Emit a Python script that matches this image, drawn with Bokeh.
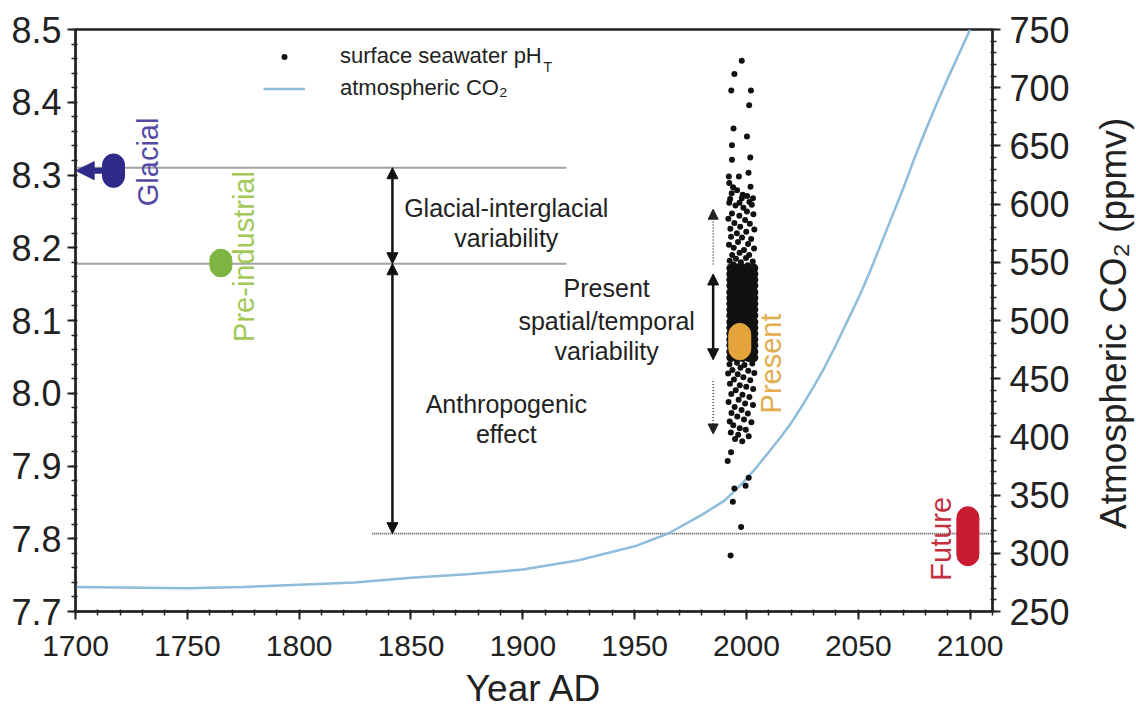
import math
from bokeh.plotting import figure
from bokeh.layouts import row
from bokeh.models import (Range1d, LinearAxis, FixedTicker, PrintfTickFormatter, Label,
                          Arrow, NormalHead, Legend, LegendItem)
from bokeh.embed import file_html
from bokeh.resources import INLINE

FONT = "Liberation Sans"

# ---------------- data ----------------
x_ticks = [1700, 1750, 1800, 1850, 1900, 1950, 2000, 2050, 2100]
ph_ticks = [7.7, 7.8, 7.9, 8.0, 8.1, 8.2, 8.3, 8.4, 8.5]
co2_ticks = [250, 300, 350, 400, 450, 500, 550, 600, 650, 700, 750]

co2_years = [1700, 1750, 1775, 1800, 1825, 1850, 1875, 1900, 1925, 1950, 1965, 1980,
             1990, 1995, 2000, 2005, 2010, 2015, 2020, 2025, 2030, 2035, 2040, 2045,
             2050, 2055, 2060, 2065, 2070, 2075, 2080, 2085, 2090, 2095, 2100]
co2_ppm = [271, 270, 271, 273, 275, 279, 282, 286, 294, 306, 317, 333,
           345, 354, 364, 375, 387, 399, 412, 427, 443, 460, 479, 499,
           519, 541, 565, 589, 613, 639, 663, 686, 708, 729, 750]

# surface seawater pH_T observations (scattered)
ph_year = [1997.9, 1993.2, 1994.6, 2002.0, 2001.2, 1994.2, 2000.2, 1993.5, 1993.5, 2001.7,
           2000.9, 1992.1, 1992.3, 1996.6, 2001.8, 1992.7, 1998.3, 1996.9, 2001.3, 1995.8,
           2000.3, 1993.4, 1997.9, 2002.9, 1994.0,
           1992.3, 1995.1, 1998.6, 2002.4, 2000.2, 1993.5, 1996.8, 2003.1, 1991.9, 1999.4,
           1994.6, 2001.5, 1997.2, 1992.8, 2003.5, 1999.9, 1995.7, 1993.1, 1998.0, 2002.1,
           1996.2, 2000.7, 1992.2, 1994.3, 2003.4, 1998.9, 1996.9, 1993.6, 2001.2, 1999.8,
           1995.3, 1992.5, 2002.8, 1997.5, 1994.2, 2000.5, 1996.0, 1998.4, 2003.0, 1992.9,
           1992.4, 1995.8, 1999.1, 2002.6, 1997.3, 1993.7, 2000.8, 1991.8, 1996.1, 2003.5,
           1998.6, 1994.4, 2001.7, 1992.6, 1997.0, 1999.9, 2003.0, 1995.2, 1993.2, 1998.2,
           2001.3, 1996.5, 1992.0, 1999.4, 2002.9, 1994.7, 1997.8, 1993.3, 2000.6, 1995.9,
           1998.9, 1992.5, 2002.2, 1994.1, 1997.0, 1999.7, 1993.0, 1996.3, 2001.0, 1994.9,
           1998.1,
           1993.1, 1991.6, 2001.0, 1999.6, 1994.6, 1993.9, 1997.6, 1992.9]
ph_value = [8.457, 8.416, 8.439, 8.416, 8.396, 8.364, 8.353, 8.341, 8.321, 8.324,
            8.303, 8.298, 8.289, 8.298, 8.284, 8.267, 8.273, 8.262, 8.263, 8.279,
            8.271, 8.275, 8.268, 8.268, 8.283,
            8.262, 8.258, 8.255, 8.259, 8.250, 8.247, 8.244, 8.246, 8.240, 8.238,
            8.234, 8.233, 8.229, 8.226, 8.225, 8.222, 8.220, 8.215, 8.214, 8.212,
            8.208, 8.205, 8.204, 8.200, 8.199, 8.197, 8.193, 8.190, 8.190, 8.186,
            8.185, 8.182, 8.181, 8.180, 8.177, 8.176, 8.174, 8.172, 8.172, 8.170,
            8.040, 8.042, 8.039, 8.041, 8.035, 8.032, 8.031, 8.027, 8.026, 8.028,
            8.022, 8.019, 8.018, 8.013, 8.011, 8.009, 8.006, 8.004, 7.999, 7.998,
            7.995, 7.991, 7.988, 7.986, 7.984, 7.981, 7.977, 7.973, 7.972, 7.968,
            7.964, 7.961, 7.960, 7.956, 7.952, 7.950, 7.946, 7.943, 7.941, 7.937,
            7.934,
            7.919, 7.907, 7.884, 7.873, 7.869, 7.851, 7.816, 7.777]

# densely packed core of the observations
band_years = [1993.0, 1995.6, 1998.3, 2001.0, 2003.3]
band_ph = [8.172, 8.164, 8.156, 8.148, 8.139, 8.131, 8.123, 8.115, 8.107, 8.098,
           8.090, 8.082, 8.074, 8.066, 8.057, 8.049]

# characteristic pH states
period_names = ["Glacial", "Pre-industrial", "Present", "Future"]
period_year = [1717.0, 1765.0, 1997.0, 2099.0]
period_ph_low = [8.283, 8.160, 8.046, 7.763]
period_ph_high = [8.329, 8.198, 8.096, 7.844]
period_colors = ["#2e2a8a", "#7db542", "#e4a43b", "#c81a30"]
period_text_colors = ["#5549a6", "#a2c957", "#e2ad4c", "#c3303f"]

# reference levels (pH) and their horizontal extents (years)
level_ph = [8.310, 8.178, 7.807]
level_x0 = [1700, 1700, 1832.7]
level_x1 = [1919.4, 1919.4, 2110]

# present variability ranges
present_arrow_year = 1985.1
present_core = [8.164, 8.046]
present_upper = [8.177, 8.253]
present_lower = [8.017, 7.944]
diff_arrow_year = 1841.7

# ---------------- main figure ----------------
p = figure(width=1090, height=711, x_range=Range1d(1700, 2110), y_range=Range1d(7.7, 8.5),
           output_backend="svg", toolbar_location=None,
           min_border_left=75, min_border_right=98, min_border_top=29, min_border_bottom=98)
p.background_fill_color = "white"
p.border_fill_color = "white"
p.xgrid.visible = False
p.ygrid.visible = False
p.outline_line_color = "#222"
p.outline_line_width = 2.5

p.extra_y_ranges = {"co2": Range1d(250, 750)}

def style_axis(ax, size):
    ax.axis_line_color = "#222"
    ax.axis_line_width = 2
    ax.major_tick_line_color = "#222"
    ax.major_tick_line_width = 2
    ax.minor_tick_line_color = "#222"
    ax.minor_tick_line_width = 1.5
    ax.major_tick_in = 0
    ax.major_tick_out = 8
    ax.minor_tick_in = 2
    ax.minor_tick_out = 4
    ax.major_label_text_font = FONT
    ax.major_label_text_font_size = size
    ax.major_label_text_color = "#222"
    ax.axis_label_text_font = FONT
    ax.axis_label_text_font_style = "normal"
    ax.axis_label_text_color = "#222"

xa = p.xaxis[0]
xa.ticker = FixedTicker(ticks=x_ticks, minor_ticks=list(range(1700, 2111, 10)))
style_axis(xa, "30px")
xa.major_label_standoff = 16
xa.axis_label = "Year AD"
xa.axis_label_text_font_size = "37px"
xa.axis_label_standoff = 9

ya = p.yaxis[0]
ya.ticker = FixedTicker(ticks=ph_ticks, minor_ticks=[7.7 + 0.02 * i for i in range(41)])
ya.formatter = PrintfTickFormatter(format="%.1f")
style_axis(ya, "36px")
ya.major_label_standoff = 6

ra = LinearAxis(y_range_name="co2")
ra.ticker = FixedTicker(ticks=co2_ticks, minor_ticks=list(range(250, 751, 10)))
style_axis(ra, "36px")
ra.major_label_standoff = 9
p.add_layout(ra, "right")

# reference levels
p.segment(x0=level_x0, x1=level_x1, y0=level_ph, y1=level_ph,
          line_color="#444", line_width=1.8, line_dash="1 1")

# CO2 curve
co2_line = p.line(co2_years, co2_ppm, y_range_name="co2", line_color="#8dbcdc", line_width=2.5)

# pH observations
band_x = [yr for ph in band_ph for yr in band_years]
band_y = [ph for ph in band_ph for yr in band_years]
p.scatter(band_x, band_y, size=9, color="#111", line_color=None)
pts = p.scatter(ph_year, ph_value, size=6, color="#111", line_color=None)

# period capsules
mid = [(a + b) / 2 for a, b in zip(period_ph_low, period_ph_high)]
hgt = [b - a for a, b in zip(period_ph_low, period_ph_high)]
p.rect(x=period_year, y=mid, width=22, width_units="screen", height=hgt,
       fill_color=period_colors, line_color=period_colors, border_radius=11)

# glacial arrow to axis
p.add_layout(Arrow(end=NormalHead(size=18, fill_color=period_colors[0], line_color=period_colors[0]),
                   x_start=period_year[0] - 4.5, y_start=mid[0], x_end=1700.3, y_end=mid[0],
                   line_color=period_colors[0], line_width=6))

# difference arrows
def dbl(x, y0, y1):
    hd = dict(size=11, fill_color="#111", line_color="#111")
    p.add_layout(Arrow(start=NormalHead(**hd), end=NormalHead(**hd), x_start=x, y_start=y0,
                       x_end=x, y_end=y1, line_color="#111", line_width=2.5))

dbl(diff_arrow_year, level_ph[0], level_ph[1])
dbl(diff_arrow_year, level_ph[1], level_ph[2])
dbl(present_arrow_year, present_core[0], present_core[1])
for rng in (present_upper, present_lower):
    p.add_layout(Arrow(end=NormalHead(size=10, fill_color="#222", line_color="#222"),
                       x_start=present_arrow_year, y_start=rng[0], x_end=present_arrow_year, y_end=rng[1],
                       line_color="#444", line_width=1.5, line_dash="1 2"))

# period labels (rotated)
label_pos = [(1732.6, 8.318), (1775.5, 8.188), (2011.1, 8.041), (2087.0, 7.800)]
for name, (lx, ly), c in zip(period_names, label_pos, period_text_colors):
    p.add_layout(Label(x=lx, y=ly, text=name, angle=math.pi / 2, text_align="center",
                       text_baseline="middle", text_font=FONT, text_font_size="29px", text_color=c))

# annotation texts
notes = [("Glacial-interglacial", 1892.6, 8.255), ("variability", 1892.6, 8.214),
         ("Anthropogenic", 1892.6, 7.985), ("effect", 1892.6, 7.944),
         ("Present", 1937.5, 8.145), ("spatial/temporal", 1937.5, 8.099),
         ("variability", 1937.5, 8.058)]
for t, lx, ly in notes:
    p.add_layout(Label(x=lx, y=ly, text=t, text_align="center", text_baseline="middle",
                       text_font=FONT, text_font_size="25px", text_color="#222"))

# legend
legend = Legend(items=[LegendItem(label="surface seawater pH", renderers=[pts]),
                       LegendItem(label="atmospheric CO₂", renderers=[co2_line])],
                location=(188, 507), orientation="vertical", border_line_color=None,
                background_fill_alpha=0, padding=0, margin=0, spacing=0,
                glyph_width=42, glyph_height=15, label_height=32, label_standoff=35,
                label_text_font=FONT, label_text_font_size="22px", label_text_color="#222")
p.add_layout(legend)
p.add_layout(Label(x=468, y=553, x_units="screen", y_units="screen", text="T",
                   text_baseline="top", text_font=FONT, text_font_size="14px", text_color="#222"))

# ---------------- strip for the right-hand axis title (reads bottom-to-top) ----------------
q = figure(width=46, height=711, x_range=Range1d(0, 46), y_range=Range1d(0, 711),
           output_backend="svg", toolbar_location=None, x_axis_type=None, y_axis_type=None,
           min_border=0)
q.outline_line_color = None
q.background_fill_color = "white"
q.border_fill_color = "white"
q.add_layout(Label(x=23, y=352, text="Atmospheric CO₂ (ppmv)", angle=math.pi / 2,
                   text_align="center", text_baseline="middle", text_font=FONT,
                   text_font_size="37px", text_color="#222"))

layout = row(p, q, spacing=0)
open("out.html", "w").write(file_html(layout, INLINE))
